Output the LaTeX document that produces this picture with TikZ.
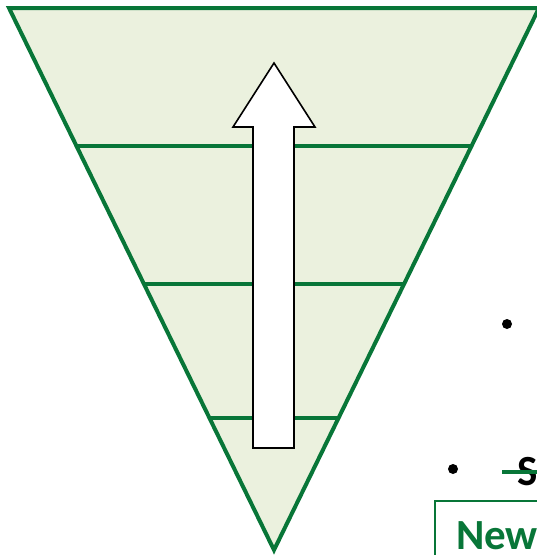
\documentclass[tikz,border=0pt]{standalone}
\usepackage{fontspec}
\setmainfont{Carlito}
\usetikzlibrary{calc}
\definecolor{pgreen}{RGB}{8,118,56}
\definecolor{pfill}{RGB}{235,241,222}
\tikzset{
  edge/.style={draw=pgreen, line width=4pt, line join=miter},
  band/.style={draw=pgreen, line width=3.6pt},
  uparrow/.style={draw=black, fill=white, line width=1.6pt, line join=miter},
  dot/.style={fill=black, draw=none},
  bigtext/.style={font=\fontsize{43}{50}\selectfont\bfseries, inner sep=0pt},
  greenbox/.style={draw=pgreen, line width=2pt}
}
\begin{document}
\begin{tikzpicture}[x=1pt, y=-1pt]
\useasboundingbox (0,0) rectangle (537,555);
\clip (0,0) rectangle (537,555);
\coordinate (TL) at (9,8);
\coordinate (TR) at (539,8);
\coordinate (B) at (274,550);
% funnel
\fill[pfill] (TL) -- (TR) -- (B) -- cycle;
\foreach \t/\n in {0.2546/a,0.509/b,0.7565/c}{
  \coordinate (L\n) at ($(TL)!\t!(B)$);
  \coordinate (R\n) at ($(TR)!\t!(B)$);
  \draw[band] (L\n) -- (R\n);
}
\draw[edge] (TL) -- (TR) -- (B) -- cycle;
% arrow
\draw[uparrow] (274,63) -- (315,127) -- (294,127) -- (294,448) -- (253,448) -- (253,127) -- (233,127) -- cycle;
% bullets
\fill[dot] (507,324) circle (5);
\fill[dot] (453,469) circle (5);
% text
\node[bigtext, anchor=base west] (s) at (517,485) {S};
\coordinate (strikeend) at (545,472);
\draw[pgreen, line width=4pt] (502,472) -- (strikeend);
\draw[greenbox] (435,501) rectangle (560,580);
\node[bigtext, anchor=base west, text=pgreen] (new) at (456,549) {New};
\end{tikzpicture}
\end{document}
